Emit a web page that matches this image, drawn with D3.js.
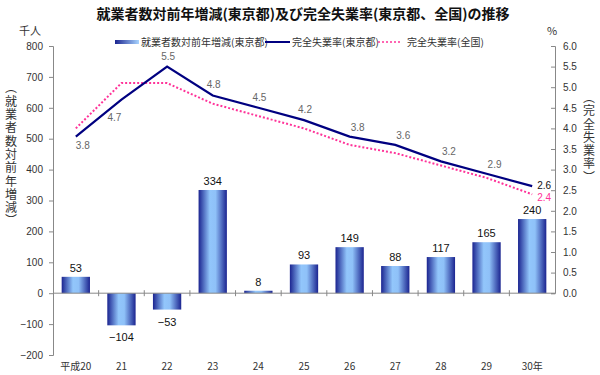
<!DOCTYPE html>
<html>
<head>
<meta charset="utf-8">
<script src="https://cdn.jsdelivr.net/npm/d3@7"></script>
<style>
  body { margin: 0; background: #fff; }
  text { font-family: "Noto Sans CJK JP", "Noto Sans", sans-serif; }
</style>
</head>
<body>
<div id="chart"></div>
<script>
// データ
const years = ["平成20", "21", "22", "23", "24", "25", "26", "27", "28", "29", "30年"];
const jobChange = [53, -104, -53, 334, 8, 93, 149, 88, 117, 165, 240];
const rateTokyo = [3.8, 4.7, 5.5, 4.8, 4.5, 4.2, 3.8, 3.6, 3.2, 2.9, 2.6];
const rateJapan = [4.0, 5.1, 5.1, 4.6, 4.3, 4.0, 3.6, 3.4, 3.1, 2.8, 2.4];
const leftTicks = [-200, -100, 0, 100, 200, 300, 400, 500, 600, 700, 800];
const rightTicks = [0, 0.5, 1, 1.5, 2, 2.5, 3, 3.5, 4, 4.5, 5, 5.5, 6];
// ラベル位置（東京都の失業率）
const labelPos = ["belowRight", "belowLeft", "above", "above", "above", "above",
  "aboveRight", "aboveRight", "aboveRight", "aboveRight", "right"];

const width = 600, height = 375;
const plotL = 53, plotR = 555, plotT = 46, plotB = 355;

const svg = d3.select("#chart").append("svg")
  .attr("width", width)
  .attr("height", height);

const x = d3.scaleBand().domain(years).range([plotL, plotR]).paddingInner(0.38).paddingOuter(0.19);
const yL = d3.scaleLinear().domain([-200, 800]).range([plotB, plotT]);
const yR = d3.scaleLinear().domain([0, 6]).range([yL(0), plotT]);
const cx = d => x(d) + x.bandwidth() / 2;

// グラデーション
const defs = svg.append("defs");
const grad = defs.append("linearGradient").attr("id", "barGrad")
  .attr("x1", "0").attr("x2", "1").attr("y1", "0").attr("y2", "0");
grad.append("stop").attr("offset", "0%").attr("stop-color", "#1b2490");
grad.append("stop").attr("offset", "40%").attr("stop-color", "#92c6fb");
grad.append("stop").attr("offset", "60%").attr("stop-color", "#8fc1f8");
grad.append("stop").attr("offset", "100%").attr("stop-color", "#1b2490");
const grad2 = defs.append("linearGradient").attr("id", "legGrad")
  .attr("x1", "0").attr("x2", "1").attr("y1", "0").attr("y2", "0");
grad2.append("stop").attr("offset", "0%").attr("stop-color", "#1b2490");
grad2.append("stop").attr("offset", "100%").attr("stop-color", "#a8d4ff");

// タイトル
svg.append("text")
  .attr("x", 303).attr("y", 19)
  .attr("text-anchor", "middle")
  .attr("font-size", 14).attr("font-weight", "bold")
  .attr("fill", "#111")
  .text("就業者数対前年増減(東京都)及び完全失業率(東京都、全国)の推移");

svg.append("text").attr("x", 30).attr("y", 35).attr("text-anchor", "middle")
  .attr("font-size", 11).attr("fill", "#333").text("千人");
svg.append("text").attr("x", 552).attr("y", 35).attr("text-anchor", "middle")
  .attr("font-size", 11).attr("fill", "#333").text("%");

// 軸タイトル（縦書き）
svg.append("text")
  .attr("x", 11).attr("y", 155)
  .attr("text-anchor", "middle")
  .attr("font-size", 12).attr("fill", "#333")
  .attr("letter-spacing", 1.3)
  .style("writing-mode", "vertical-rl")
  .text("（就業者数対前年増減）");
svg.append("text")
  .attr("x", 589).attr("y", 138)
  .attr("text-anchor", "middle")
  .attr("font-size", 12).attr("fill", "#333")
  .attr("letter-spacing", 1.3)
  .style("writing-mode", "vertical-rl")
  .text("（完全失業率）");

// 左軸
const axisL = svg.append("g").attr("transform", `translate(${plotL},0)`)
  .call(d3.axisLeft(yL).tickValues(leftTicks).tickSize(4).tickPadding(6));
axisL.select(".domain").attr("stroke", "#888");
axisL.selectAll(".tick line").attr("stroke", "#888");
axisL.selectAll(".tick text").attr("font-size", 10).attr("fill", "#333")
  .style("font-family", "Arial, 'Liberation Sans', sans-serif");

// 右軸
const axisR = svg.append("g").attr("transform", `translate(${plotR},0)`)
  .call(d3.axisRight(yR).tickValues(rightTicks).tickSize(-4).tickPadding(8).tickFormat(d3.format(".1f")));
axisR.select(".domain").attr("stroke", "#888");
axisR.selectAll(".tick line").attr("stroke", "#888");
axisR.selectAll(".tick text").attr("font-size", 10).attr("fill", "#333")
  .style("font-family", "Arial, 'Liberation Sans', sans-serif");

// 棒
svg.append("g").selectAll("rect")
  .data(jobChange)
  .join("rect")
  .attr("x", (d, i) => x(years[i]))
  .attr("width", x.bandwidth())
  .attr("y", d => yL(Math.max(0, d)))
  .attr("height", d => Math.abs(yL(d) - yL(0)))
  .attr("fill", "url(#barGrad)");

// 0ライン
svg.append("line")
  .attr("x1", plotL).attr("x2", plotR)
  .attr("y1", yL(0)).attr("y2", yL(0))
  .attr("stroke", "#888");
svg.append("g").selectAll("line")
  .data(years.slice(1))
  .join("line")
  .attr("x1", d => x(d) - (x.step() - x.bandwidth()) / 2)
  .attr("x2", d => x(d) - (x.step() - x.bandwidth()) / 2)
  .attr("y1", yL(0) - 3).attr("y2", yL(0) + 3)
  .attr("stroke", "#888");

// 横軸ラベル
svg.append("g").selectAll("text")
  .data(years)
  .join("text")
  .attr("x", d => cx(d))
  .attr("y", 370)
  .attr("text-anchor", "middle")
  .attr("font-size", 10).attr("fill", "#333")
  .text(d => d);

// 棒ラベル
svg.append("g").selectAll("text")
  .data(jobChange)
  .join("text")
  .attr("x", (d, i) => cx(years[i]))
  .attr("y", d => d >= 0 ? yL(d) - 5 : yL(d) + 16)
  .attr("text-anchor", "middle")
  .attr("font-size", 11).attr("fill", "#111")
  .style("font-family", "Arial, 'Liberation Sans', sans-serif")
  .text(d => d < 0 ? "−" + Math.abs(d) : d);

// 折れ線
const line = d3.line().x((d, i) => cx(years[i])).y(d => yR(d));
svg.append("path").datum(rateJapan)
  .attr("d", line).attr("fill", "none")
  .attr("stroke", "#ff3399").attr("stroke-width", 2)
  .attr("stroke-dasharray", "2,2");
svg.append("path").datum(rateTokyo)
  .attr("d", line).attr("fill", "none")
  .attr("stroke", "#000080").attr("stroke-width", 2.2);

// 折れ線ラベル
const offs = {
  belowRight: [7, 12], belowLeft: [-7, 21], above: [1, -7],
  aboveRight: [8, -6], right: [12, 3]
};
svg.append("g").selectAll("text")
  .data(rateTokyo)
  .join("text")
  .attr("x", (d, i) => cx(years[i]) + offs[labelPos[i]][0])
  .attr("y", (d, i) => yR(d) + offs[labelPos[i]][1])
  .attr("text-anchor", "middle")
  .attr("font-size", 10)
  .attr("fill", (d, i) => i === rateTokyo.length - 1 ? "#111" : "#666")
  .style("font-family", "Arial, 'Liberation Sans', sans-serif")
  .text(d => d.toFixed(1));
const lastI = rateJapan.length - 1;
svg.append("text")
  .attr("x", cx(years[lastI]) + 12)
  .attr("y", yR(rateJapan[lastI]) + 7)
  .attr("text-anchor", "middle")
  .attr("font-size", 10).attr("fill", "#ff3399")
  .style("font-family", "Arial, 'Liberation Sans', sans-serif")
  .text(rateJapan[lastI].toFixed(1));

// 凡例
const leg = svg.append("g").attr("font-size", 10).attr("fill", "#333");
leg.append("rect").attr("x", 115).attr("y", 40).attr("width", 24).attr("height", 4)
  .attr("fill", "url(#legGrad)");
leg.append("text").attr("x", 141).attr("y", 46).attr("fill", "#333").text("就業者数対前年増減(東京都)");
leg.append("line").attr("x1", 265).attr("x2", 290).attr("y1", 42).attr("y2", 42)
  .attr("stroke", "#000080").attr("stroke-width", 2);
leg.append("text").attr("x", 292).attr("y", 46).attr("fill", "#333").text("完全失業率(東京都)");
leg.append("line").attr("x1", 378).attr("x2", 402).attr("y1", 42).attr("y2", 42)
  .attr("stroke", "#ff3399").attr("stroke-width", 1.5).attr("stroke-dasharray", "2,2");
leg.append("text").attr("x", 407).attr("y", 46).attr("fill", "#333").text("完全失業率(全国)");
</script>
</body>
</html>
